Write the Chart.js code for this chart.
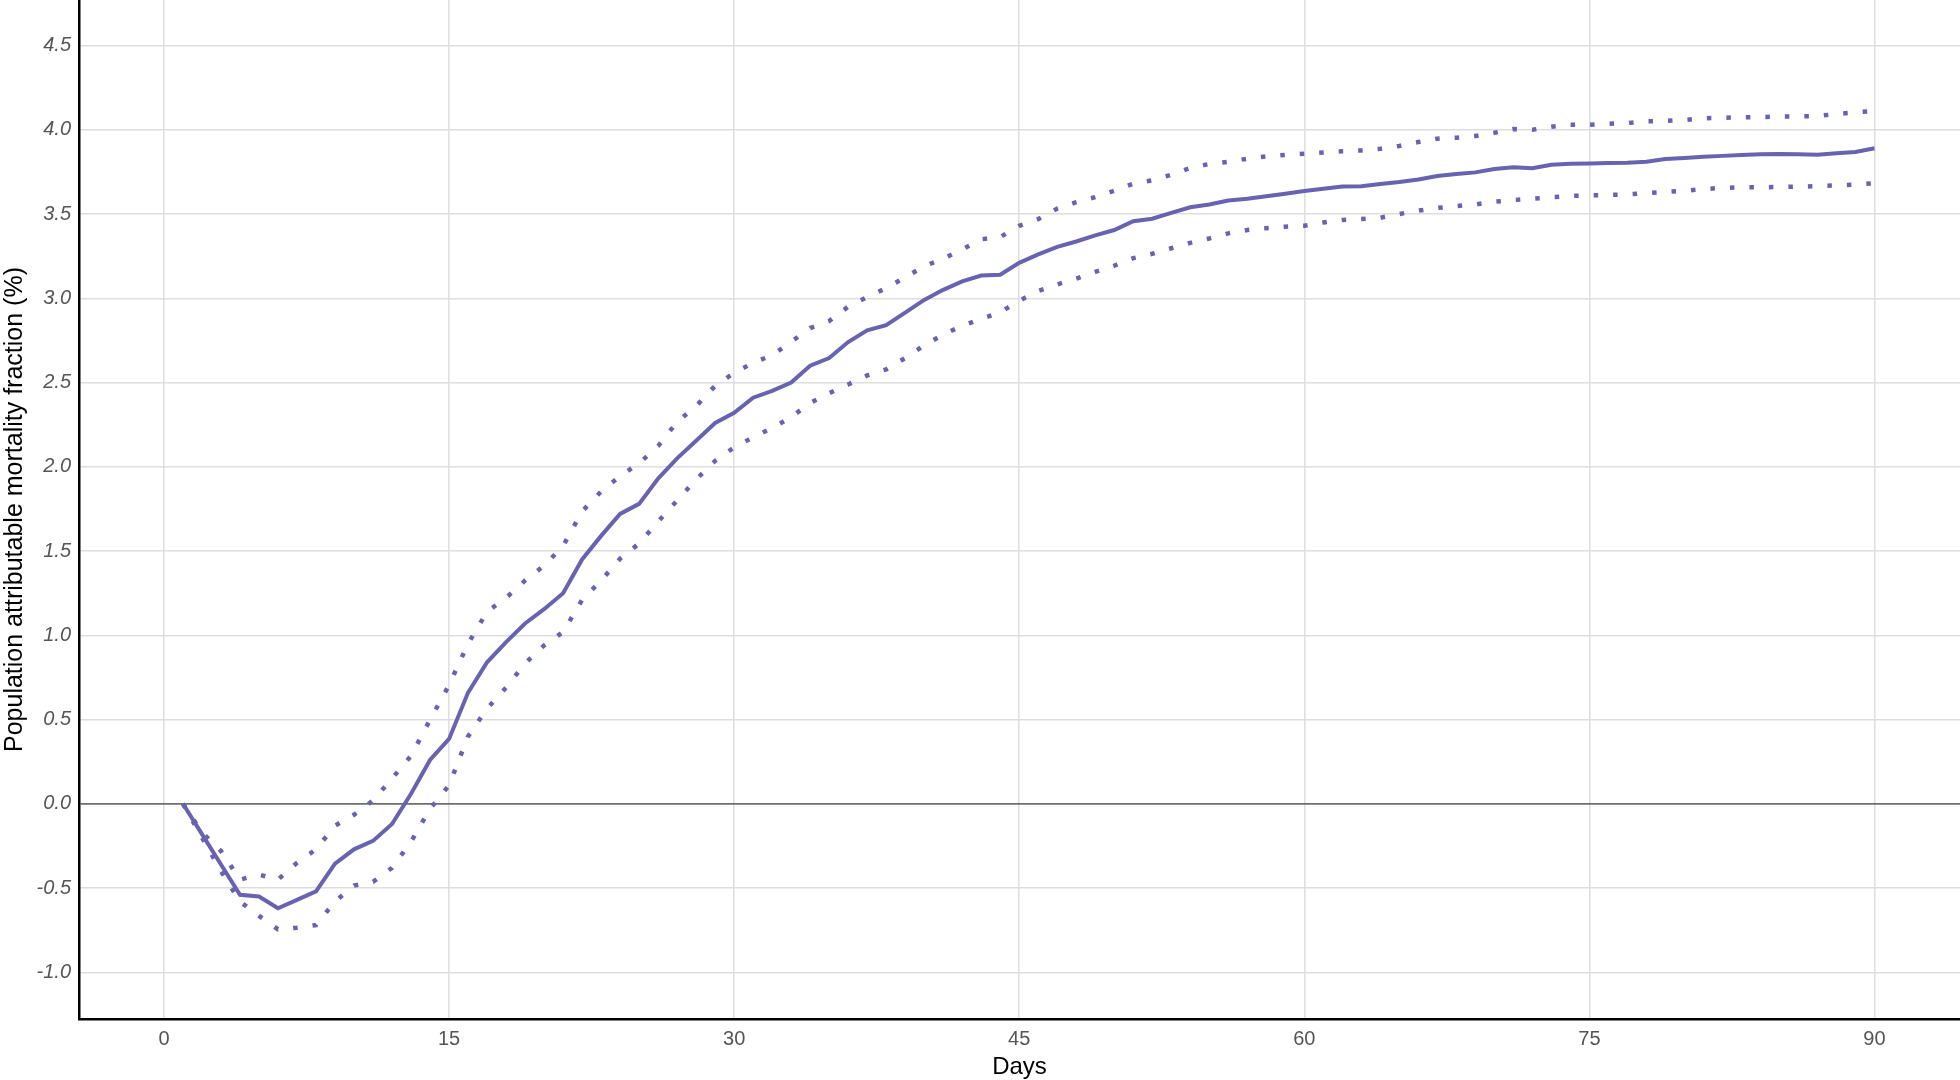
<!DOCTYPE html>
<html>
<head>
<meta charset="utf-8">
<title>Population attributable mortality fraction</title>
<script src="https://cdn.jsdelivr.net/npm/chart.js@4.4.1/dist/chart.umd.min.js"></script>
<style>
    html, body { margin: 0; padding: 0; background: #fff; }
    #wrap { width: 1960px; height: 1080px; position: relative; }
</style>
</head>
<body>
<div id="wrap"><canvas id="pafChart"></canvas></div>
<script>
// === Dữ liệu ===
const days = [
    1, 2, 3, 4, 5, 6, 7, 8, 9, 10, 11, 12, 13, 14, 15, 16, 17, 18, 19, 20,
    21, 22, 23, 24, 25, 26, 27, 28, 29, 30, 31, 32, 33, 34, 35, 36, 37, 38, 39, 40,
    41, 42, 43, 44, 45, 46, 47, 48, 49, 50, 51, 52, 53, 54, 55, 56, 57, 58, 59, 60,
    61, 62, 63, 64, 65, 66, 67, 68, 69, 70, 71, 72, 73, 74, 75, 76, 77, 78, 79, 80,
    81, 82, 83, 84, 85, 86, 87, 88, 89, 90
];

const pafEstimate = [
    0.00, -0.18, -0.36, -0.54, -0.55, -0.62, -0.57, -0.52, -0.355, -0.27,
    -0.22, -0.12, 0.06, 0.26, 0.385, 0.66, 0.84, 0.96, 1.07, 1.155,
    1.25, 1.45, 1.59, 1.72, 1.78, 1.93, 2.05, 2.155, 2.26, 2.32,
    2.41, 2.45, 2.50, 2.60, 2.645, 2.74, 2.81, 2.84, 2.915, 2.99,
    3.05, 3.10, 3.135, 3.14, 3.21, 3.26, 3.305, 3.337, 3.373, 3.405,
    3.457, 3.472, 3.507, 3.54, 3.556, 3.58, 3.59, 3.605, 3.62, 3.636,
    3.65, 3.663, 3.665, 3.678, 3.69, 3.705, 3.726, 3.737, 3.747, 3.767,
    3.777, 3.772, 3.792, 3.798, 3.80, 3.802, 3.804, 3.81, 3.826, 3.832,
    3.84, 3.845, 3.85, 3.854, 3.856, 3.854, 3.852, 3.86, 3.868, 3.89
];

const pafUpper = [
    0.00, -0.17, -0.28, -0.45, -0.42, -0.45, -0.35, -0.27, -0.13, -0.065,
    0.02, 0.15, 0.285, 0.498, 0.705, 0.95, 1.14, 1.222, 1.325, 1.413,
    1.53, 1.735, 1.853, 1.945, 2.02, 2.123, 2.266, 2.36, 2.48, 2.557,
    2.617, 2.662, 2.741, 2.823, 2.865, 2.95, 3.007, 3.06, 3.125, 3.19,
    3.235, 3.29, 3.35, 3.363, 3.43, 3.47, 3.532, 3.57, 3.60, 3.638,
    3.68, 3.70, 3.733, 3.773, 3.797, 3.81, 3.828, 3.842, 3.851, 3.858,
    3.865, 3.872, 3.877, 3.887, 3.904, 3.927, 3.947, 3.953, 3.963, 3.982,
    4.004, 4.00, 4.018, 4.03, 4.03, 4.035, 4.04, 4.05, 4.052, 4.058,
    4.068, 4.071, 4.074, 4.075, 4.078, 4.079, 4.082, 4.093, 4.103, 4.112
];

const pafLower = [
    0.00, -0.20, -0.40, -0.58, -0.665, -0.745, -0.735, -0.72, -0.58, -0.485,
    -0.463, -0.38, -0.225, -0.03, 0.11, 0.40, 0.565, 0.69, 0.833, 0.94,
    1.02, 1.21, 1.325, 1.455, 1.545, 1.675, 1.80, 1.925, 2.035, 2.115,
    2.175, 2.23, 2.295, 2.378, 2.437, 2.488, 2.542, 2.578, 2.645, 2.72,
    2.785, 2.836, 2.878, 2.917, 2.985, 3.043, 3.082, 3.117, 3.156, 3.193,
    3.238, 3.264, 3.297, 3.329, 3.355, 3.385, 3.405, 3.416, 3.425, 3.43,
    3.45, 3.465, 3.47, 3.478, 3.50, 3.52, 3.536, 3.547, 3.557, 3.573,
    3.583, 3.59, 3.60, 3.607, 3.611, 3.613, 3.616, 3.624, 3.631, 3.638,
    3.648, 3.655, 3.659, 3.659, 3.66, 3.663, 3.665, 3.67, 3.675, 3.683
];

const xTicks = [0, 15, 30, 45, 60, 75, 90];
const yTicks = [-1.0, -0.5, 0.0, 0.5, 1.0, 1.5, 2.0, 2.5, 3.0, 3.5, 4.0, 4.5];

const LINE_COLOR = '#6763b0';
const GRID_COLOR = '#dedede';
const FONT = '"Liberation Sans", Arial, Helvetica, sans-serif';

function toPoints(values) {
    return days.map((d, i) => ({ x: d, y: values[i] }));
}

// === Biểu đồ ===
const ctx = document.getElementById('pafChart').getContext('2d');
new Chart(ctx, {
    type: 'line',
    data: {
        datasets: [
            {
                label: 'Upper',
                data: toPoints(pafUpper),
                borderColor: LINE_COLOR,
                borderWidth: 4.5,
                borderDash: [4.5, 15],
                borderCapStyle: 'butt',
                pointRadius: 0,
                tension: 0,
                fill: false
            },
            {
                label: 'Lower',
                data: toPoints(pafLower),
                borderColor: LINE_COLOR,
                borderWidth: 4.5,
                borderDash: [4.5, 15],
                borderCapStyle: 'butt',
                pointRadius: 0,
                tension: 0,
                fill: false
            },
            {
                label: 'PAF',
                data: toPoints(pafEstimate),
                borderColor: LINE_COLOR,
                borderWidth: 4,
                pointRadius: 0,
                tension: 0,
                fill: false
            }
        ]
    },
    options: {
        responsive: true,
        maintainAspectRatio: false,
        animation: false,
        layout: { padding: 0 },
        plugins: {
            legend: { display: false },
            tooltip: { enabled: false }
        },
        scales: {
            x: {
                type: 'linear',
                min: -4.47,
                max: 94.5,
                afterBuildTicks(scale) {
                    scale.ticks = xTicks.map(v => ({ value: v }));
                },
                afterFit(scale) {
                    scale.height = 61;
                    scale.paddingLeft = 0;
                    scale.paddingRight = 0;
                },
                grid: {
                    color: GRID_COLOR,
                    lineWidth: 1.5,
                    drawTicks: false
                },
                border: { display: true, color: '#000', width: 2.5 },
                ticks: {
                    color: '#555',
                    padding: 8,
                    font: { family: FONT, size: 20 },
                    callback: v => String(v)
                },
                title: {
                    display: true,
                    text: 'Days',
                    color: '#000',
                    padding: { top: 0, bottom: 1 },
                    font: { family: FONT, size: 24, lineHeight: 1 }
                }
            },
            y: {
                type: 'linear',
                min: -1.277,
                max: 4.77,
                afterBuildTicks(scale) {
                    scale.ticks = yTicks.map(v => ({ value: v }));
                },
                afterFit(scale) {
                    // ép vùng vẽ sát mép trên, trục y rộng 79px
                    scale.width = 79;
                    scale.paddingTop = 0;
                    scale.paddingBottom = 0;
                },
                grid: {
                    color: (c) => (c.tick && c.tick.value === 0 ? '#6e6e6e' : GRID_COLOR),
                    lineWidth: (c) => (c.tick && c.tick.value === 0 ? 1.8 : 1.5),
                    drawTicks: false
                },
                border: { display: true, color: '#000', width: 2.5 },
                ticks: {
                    color: '#555',
                    padding: 8,
                    font: { family: FONT, size: 20, style: 'italic' },
                    callback: v => v.toFixed(1)
                },
                title: {
                    display: true,
                    text: 'Population attributable mortality fraction (%)',
                    color: '#000',
                    padding: { top: 3, bottom: 0 },
                    font: { family: FONT, size: 25, lineHeight: 1 }
                }
            }
        }
    }
});
</script>
</body>
</html>
